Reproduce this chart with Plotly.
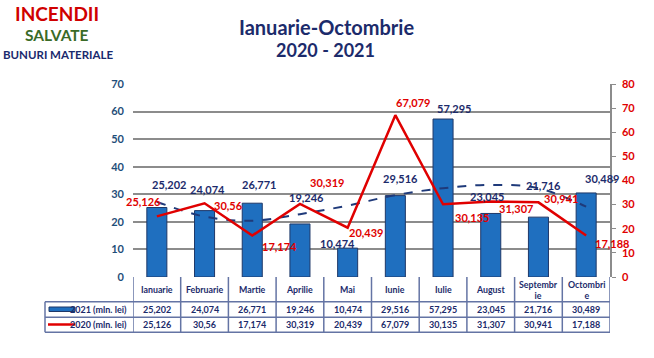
import plotly.graph_objects as go

# ---------------- data ----------------
months = ["Ianuarie", "Februarie", "Martie", "Aprilie", "Mai", "Iunie",
          "Iulie", "August", "Septembrie", "Octombrie"]
month_headers = ["Ianuarie", "Februarie", "Martie", "Aprilie", "Mai", "Iunie",
                 "Iulie", "August", "Septembr<br>ie", "Octombri<br>e"]
values_2021 = [25.202, 24.074, 26.771, 19.246, 10.474, 29.516, 57.295, 23.045, 21.716, 30.489]
values_2020 = [25.126, 30.56, 17.174, 30.319, 20.439, 67.079, 30.135, 31.307, 30.941, 17.188]
labels_2021 = ["25,202", "24,074", "26,771", "19,246", "10,474", "29,516", "57,295", "23,045", "21,716", "30,489"]
labels_2020 = ["25,126", "30,56", "17,174", "30,319", "20,439", "67,079", "30,135", "31,307", "30,941", "17,188"]
# polynomial trendline of the 2021 series
trend_2021 = [27.3, 21.9, 20.4, 22.8, 25.9, 29.7, 32.2, 33.4, 32.2, 25.5]
left_ticks = [0, 10, 20, 30, 40, 50, 60, 70]
right_ticks = [0, 10, 20, 30, 40, 50, 60, 70, 80]

# label offsets in pixels (dx right, dy down)
off_2021 = [(12.6, -23.5), (3, -21.6), (7, -19), (7, -26), (-10.6, -5),
            (5.6, -17.6), (11, -11), (-4, -16.5), (5, -32), (15.4, -14)]
off_2020 = [(-13.4, -14.4), (23.8, 2.7), (27, 11.4), (27, -21), (18.4, 5.3),
            (17.6, -13), (28.8, 12.7), (25, 7.5), (23, -3.4), (25.6, 7.5)]

# ---------------- style ----------------
W, H = 654, 358
# plot area in window pixels
L0, R0, T0, B0 = 133, 610, 84, 277
NAVY = "#1C2B6B"
BLUE = "#1F6FBF"
RED = "#E00000"
TBL = "#6474A4"
FONT = "Lato, 'Open Sans', sans-serif"


def py(p):
    return (B0 - p) / (B0 - T0)


def px(p):
    return (p - L0) / (R0 - L0)


def txt(x, y, text, size, color, xref="paper", yref="paper", xanchor="center", **kw):
    d = dict(x=x, y=y, xref=xref, yref=yref, text=f"<b>{text}</b>", showarrow=False,
             xanchor=xanchor, yanchor="middle",
             font=dict(family=FONT, size=size, color=color))
    d.update(kw)
    return d


fig = go.Figure()
fig.add_trace(go.Bar(x=months, y=values_2021, name="2021 (mln. lei)",
                     marker=dict(color=BLUE, line=dict(color="#1F3868", width=1)),
                     width=0.42, yaxis="y"))
fig.add_trace(go.Scatter(x=months, y=trend_2021, mode="lines", yaxis="y",
                         line=dict(color="#1F3A7A", width=2, dash="dash", shape="spline"),
                         showlegend=False))
fig.add_trace(go.Scatter(x=months, y=values_2020, mode="lines", name="2020 (mln. lei)",
                         line=dict(color=RED, width=2.5), yaxis="y2"))

ann = []
for m, v, t, (dx, dy) in zip(months, values_2021, labels_2021, off_2021):
    ann.append(txt(m, v, t, 11, NAVY, xref="x", yref="y", xshift=dx, yshift=-dy))
for m, v, t, (dx, dy) in zip(months, values_2020, labels_2020, off_2020):
    ann.append(txt(m, v, t, 11, RED, xref="x", yref="y2", xshift=dx, yshift=-dy))

# table contents
for m, hdr, a, b in zip(months, month_headers, labels_2021, labels_2020):
    ann.append(txt(m, py(289.5), hdr, 8.8, NAVY, xref="x"))
    ann.append(txt(m, py(309.5), a, 9, NAVY, xref="x"))
    ann.append(txt(m, py(324.8), b, 9, NAVY, xref="x"))
ann.append(txt(px(129), py(309.5), "2021 (mln. lei)", 9, NAVY, xanchor="right"))
ann.append(txt(px(129), py(324.8), "2020 (mln. lei)", 9, NAVY, xanchor="right"))

# titles
ann.append(txt(px(326), py(27), "Ianuarie-Octombrie", 20, NAVY))
ann.append(txt(px(325), py(50), "2020 - 2021", 18, NAVY))
ann.append(txt(px(57), py(13), "INCENDII", 19, "#D00000"))
ann.append(txt(px(57), py(35), "SALVATE", 15.5, "#3A6B27"))
ann.append(txt(px(58), py(55), "BUNURI MATERIALE", 11.5, "#1A2A6E"))

shapes = []
ln = dict(color=TBL, width=1.5)
for yy in (301.7, 317.3, 332.3):
    shapes.append(dict(type="line", xref="paper", yref="paper", x0=px(45), x1=1,
                       y0=py(yy), y1=py(yy), line=ln))
shapes.append(dict(type="line", xref="paper", yref="paper", x0=px(45), x1=px(45),
                   y0=py(301.7), y1=py(332.3), line=ln))
for i in range(len(months) + 1):
    shapes.append(dict(type="line", xref="x", yref="paper", x0=i - 0.5, x1=i - 0.5,
                       y0=0, y1=py(332.3), line=ln))
# legend keys
shapes.append(dict(type="rect", xref="paper", yref="paper", x0=px(49), x1=px(75),
                   y0=py(311.5), y1=py(307), fillcolor=BLUE, line=dict(color="#1F3868", width=1)))
shapes.append(dict(type="line", xref="paper", yref="paper", x0=px(48), x1=px(75),
                   y0=py(324.5), y1=py(324.5), line=dict(color=RED, width=2.5)))

fig.update_layout(
    width=W, height=H, autosize=False,
    margin=dict(l=L0, r=W - R0, t=T0, b=H - B0, pad=0),
    paper_bgcolor="white", plot_bgcolor="white",
    showlegend=False,
    xaxis=dict(type="category", range=[-0.5, len(months) - 0.5], showticklabels=False,
               showgrid=False, showline=False, zeroline=False),
    yaxis=dict(range=[0, 70], tickvals=left_ticks, showgrid=True, gridcolor="#8C8C8C",
               gridwidth=1.5, zeroline=False, showline=False, ticks="",
               ticklabelstandoff=8,
               tickfont=dict(family=FONT, size=11, color="#1F4E79", weight="bold")),
    yaxis2=dict(range=[0, 80], tickvals=right_ticks, overlaying="y", side="right",
                showgrid=False, zeroline=False, showline=True, linecolor="#8C8C8C",
                linewidth=1.5, ticks="outside", ticklen=4, tickcolor="#8C8C8C",
                ticklabelstandoff=4,
                tickfont=dict(family=FONT, size=11, color=RED, weight="bold")),
    annotations=ann, shapes=shapes,
)

fig.write_html("out.html",
               config={"displayModeBar": False},
               post_script="document.body.style.margin='0';document.body.style.overflow='hidden';")
